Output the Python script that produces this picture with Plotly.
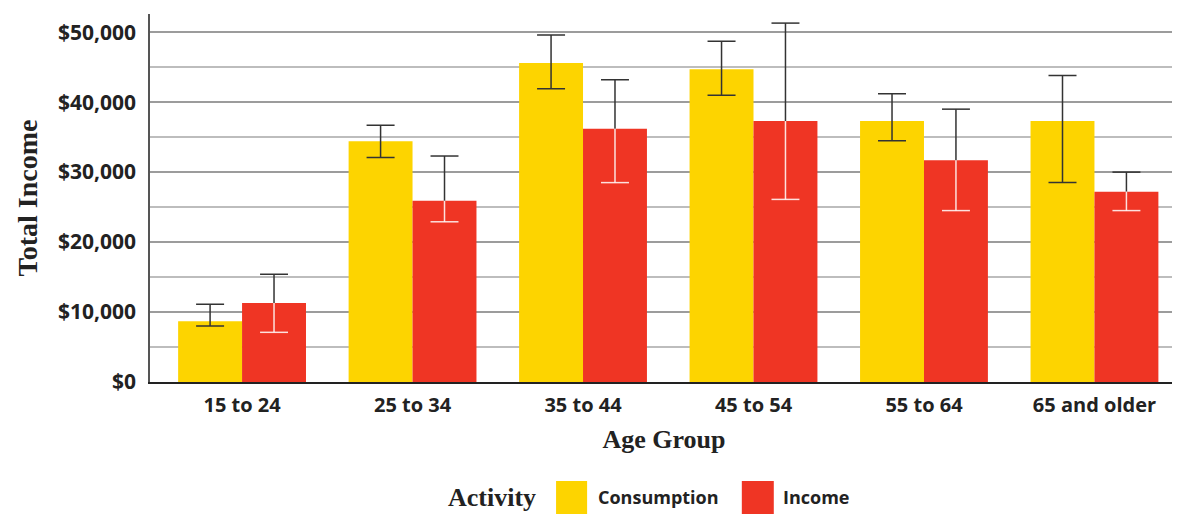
import plotly.graph_objects as go

# ---- data ----
age_groups = ["15 to 24", "25 to 34", "35 to 44", "45 to 54", "55 to 64", "65 and older"]
consumption = [8700, 34400, 45600, 44700, 37300, 37300]
consumption_low = [8000, 32100, 41900, 41000, 34500, 28500]
consumption_high = [11100, 36700, 49600, 48700, 41200, 43800]
income = [11300, 25900, 36200, 37300, 31700, 27200]
income_low = [7100, 22900, 28500, 26100, 24500, 24500]
income_high = [15400, 32300, 43200, 51300, 39000, 30000]
y_tick_vals = [0, 10000, 20000, 30000, 40000, 50000]
y_tick_text = ["$0", "$10,000", "$20,000", "$30,000", "$40,000", "$50,000"]

YELLOW = "#FDD400"
RED = "#EF3524"
DARK = "#333333"
LIGHT = "rgba(255,255,255,0.85)"
SANS = "Open Sans"
SERIF = "Liberation Serif"

idx = list(range(len(age_groups)))
off = 0.1875
bw = 0.375
cap = 0.082

x_cons = [i - off for i in idx]
x_inc = [i + off for i in idx]

fig = go.Figure()

fig.add_trace(go.Bar(
    x=x_cons, y=consumption, width=bw, name="Consumption",
    marker=dict(color=YELLOW, line=dict(width=0)),
    error_y=dict(type="data", symmetric=False,
                 array=[h - v for h, v in zip(consumption_high, consumption)],
                 arrayminus=[v - l for v, l in zip(consumption, consumption_low)],
                 color=DARK, thickness=1.5, width=14),
    showlegend=False, hoverinfo="skip",
))
fig.add_trace(go.Bar(
    x=x_inc, y=income, width=bw, name="Income",
    marker=dict(color=RED, line=dict(width=0)),
    showlegend=False, hoverinfo="skip",
))

# income error bars: dark above the bar, light inside the bar
up_x, up_y, lo_x, lo_y = [], [], [], []
for x, v, l, h in zip(x_inc, income, income_low, income_high):
    up_x += [x, x, None, x - cap, x + cap, None]
    up_y += [v, h, None, h, h, None]
    lo_x += [x, x, None, x - cap, x + cap, None]
    lo_y += [v, l, None, l, l, None]

fig.add_trace(go.Scatter(x=up_x, y=up_y, mode="lines",
                         line=dict(color=DARK, width=1.5),
                         showlegend=False, hoverinfo="skip"))
fig.add_trace(go.Scatter(x=lo_x, y=lo_y, mode="lines",
                         line=dict(color=LIGHT, width=1.5),
                         showlegend=False, hoverinfo="skip"))

# legend built from shapes + annotations (large swatches)
fig.add_shape(type="rect", xref="paper", yref="paper",
              x0=0.395, x1=0.4252, y0=-0.269, y1=-0.36,
              fillcolor=YELLOW, line=dict(width=0))
fig.add_shape(type="rect", xref="paper", yref="paper",
              x0=0.5757, x1=0.6068, y0=-0.269, y1=-0.36,
              fillcolor=RED, line=dict(width=0))
fig.add_annotation(text="<b>Activity</b>", xref="paper", yref="paper",
                   x=0.3777, y=-0.313, xanchor="right", yanchor="middle",
                   showarrow=False, font=dict(family=SERIF, size=26, color="#222"))
fig.add_annotation(text="<b>Consumption</b>", xref="paper", yref="paper",
                   x=0.434, y=-0.313, xanchor="left", yanchor="middle",
                   showarrow=False, font=dict(family=SANS, size=18, color="#222"))
fig.add_annotation(text="<b>Income</b>", xref="paper", yref="paper",
                   x=0.6136, y=-0.313, xanchor="left", yanchor="middle",
                   showarrow=False, font=dict(family=SANS, size=18, color="#222"))

fig.update_layout(
    width=1172, height=506,
    margin=dict(l=142, r=0, t=6, b=132),
    paper_bgcolor="white", plot_bgcolor="white",
    showlegend=False, hovermode=False,
    xaxis=dict(
        range=[-0.54, 5.49], tickmode="array", tickvals=idx, ticktext=age_groups,
        showgrid=False, zeroline=False,
        showline=True, linecolor="#222", linewidth=2,
        ticks="", ticklabelstandoff=4,
        tickfont=dict(family=SANS, size=20, color="#222", weight="bold"),
        title=dict(text="<b>Age Group</b>", standoff=13,
                   font=dict(family=SERIF, size=26, color="#222")),
    ),
    yaxis=dict(
        range=[0, 52600], tickmode="array", tickvals=y_tick_vals, ticktext=y_tick_text,
        showgrid=True, gridcolor="#9c9c9c", gridwidth=1.5,
        minor=dict(dtick=5000, showgrid=True, gridcolor="#bdbdbd", gridwidth=1.5),
        zeroline=False, showline=True, linecolor="#555", linewidth=1.5,
        mirror=True, ticks="", ticklabelstandoff=8,
        tickfont=dict(family=SANS, size=21, color="#222", weight="bold"),
        title=dict(text="<b>Total Income</b>", standoff=12,
                   font=dict(family=SERIF, size=28, color="#222")),
    ),
)

fig.write_html("out.html")
